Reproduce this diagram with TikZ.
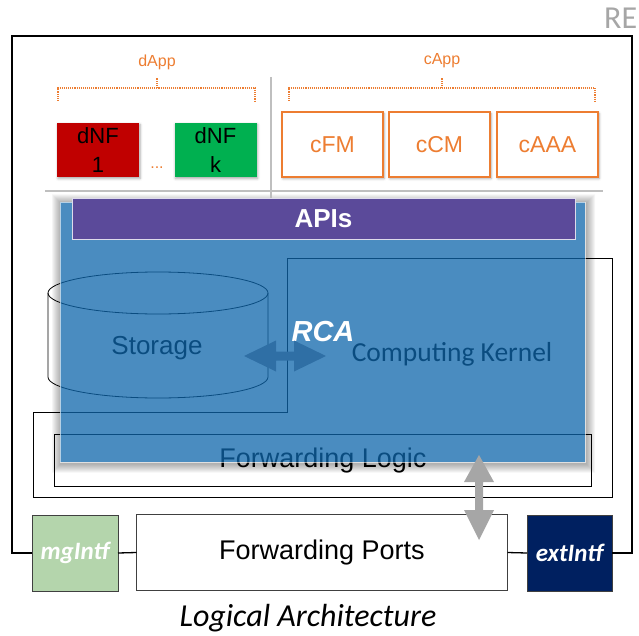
\documentclass[tikz,border=0pt]{standalone}
\usepackage{fontspec}
\setmainfont{Liberation Sans}
\newfontfamily\calib{Carlito}
\usetikzlibrary{shadows.blur}
\definecolor{orng}{RGB}{237,125,49}
\definecolor{redbox}{RGB}{192,0,0}
\definecolor{greenbox}{RGB}{0,176,80}
\definecolor{rcablue}{RGB}{14,102,171}
\definecolor{apipurple}{RGB}{91,74,154}
\definecolor{navy}{RGB}{0,32,96}
\definecolor{mggreen}{RGB}{180,213,172}
\definecolor{sepgray}{RGB}{191,191,191}
\definecolor{arrowgray}{RGB}{166,166,166}
\definecolor{linkblue}{RGB}{47,111,165}
\definecolor{regray}{RGB}{166,166,166}

\begin{document}
\begin{tikzpicture}[x=1pt,y=-1pt,
  softshadow/.style={blur shadow={shadow xshift=1pt,shadow yshift=-1.5pt,shadow blur radius=2.5pt,shadow opacity=35}},
  dnfbox/.style={rectangle,inner sep=0pt,outer sep=0pt,minimum width=82pt,minimum height=54pt,
    align=center,font=\fontsize{22}{29}\selectfont,softshadow},
  cbox/.style={rectangle,draw=orng,line width=1.2pt,fill=white,text=orng,inner sep=0pt,outer sep=0pt,
    minimum width=101pt,minimum height=65pt,font=\fontsize{23}{27}\selectfont,softshadow},
  bracket/.style={orng,densely dotted,line width=1.1pt},
  applabel/.style={text=orng,font=\fontsize{16}{19}\selectfont,inner sep=0pt},
  sep/.style={draw=sepgray,line width=1.3pt},
  thinbox/.style={draw=black,line width=0.8pt},
  port/.style={rectangle,draw=black!75,line width=0.8pt,inner sep=0pt,outer sep=0pt,minimum height=76pt},
  intf/.style={port,text=white,font=\calib\bfseries\itshape\fontsize{25}{29}\selectfont},
  link/.style={draw=black,line width=1.3pt}]

\useasboundingbox (0,0) rectangle (639,636);

% ---------- bottom row of interfaces ----------
\node[intf,fill=mggreen,minimum width=86pt] (mg) at (75,553) {mgIntf};
\node[port,fill=white,minimum width=371pt,font=\fontsize{27}{31}\selectfont] (fp) at (322,552.5) {Forwarding Ports};
\node[intf,fill=navy,minimum width=85pt] (ext) at (569.5,553) {extIntf};

% outer frame of the element
\draw[link] (mg.west) -| (12,36) -- (632,36) |- (ext.east);
\draw[link] (mg.east) -- (fp.west);
\draw[link] (fp.east) -- (ext.west);

% ---------- application layer ----------
\draw[sep] (45,191) -- (603,191);

\node[dnfbox,fill=redbox] (dnf1) at (98,150) {dNF\\1};
\node[dnfbox,fill=greenbox] (dnfk) at (215.5,150) {dNF\\k};
\node[text=orng,font=\fontsize{16}{19}\selectfont,inner sep=0pt] (dots) at (157,168) {...};

\node[cbox] (cfm) at (332.5,144.5) {cFM};
\node[cbox] (ccm) at (439.5,144.5) {cCM};
\node[cbox] (caaa) at (547.5,144.5) {cAAA};

% dotted brackets grouping the applications
\coordinate (dl) at (58,101); \coordinate (dr) at (255,101);
\coordinate (dm) at (157,88); \coordinate (dt) at (157,78);
\draw[bracket] (dl) -- (58,88) -- (255,88) -- (dr);
\draw[bracket] (dm) -- (dt);
\node[applabel] (dapp) at (157,62) {dApp};

\coordinate (cl) at (289,101); \coordinate (cr) at (595,101);
\coordinate (cm) at (442,88); \coordinate (ct) at (442,78);
\draw[bracket] (cl) -- (289,88) -- (595,88) -- (cr);
\draw[bracket] (cm) -- (ct);
\node[applabel] (capp) at (442,61) {cApp};

% ---------- internals below the RCA layer ----------
\draw[thinbox] (287,258) -- (612,258) -- (612,497) -- (33,497) -- (33,412) -- (287,412) -- cycle;
\node[font=\calib\fontsize{27.5}{32}\selectfont,inner sep=0pt] (kernel) at (452,354) {Computing Kernel};

% storage cylinder
\draw[thinbox] (158,293) ellipse [x radius=110, y radius=21];
\draw[thinbox] (48,293) -- (48,377) arc [start angle=180, end angle=0, x radius=110, y radius=21] -- (268,293);
\node[font=\fontsize{26}{30}\selectfont,inner sep=0pt] (storage) at (157,348) {Storage};

% forwarding logic
\draw[thinbox] (54,434) rectangle (591,486);
\node[font=\fontsize{27}{31}\selectfont,inner sep=0pt] (fl) at (323,461) {Forwarding Logic};

% ---------- RCA layer ----------
\foreach \i in {1,...,9}
  \fill[black,opacity=0.04,even odd rule]
    ({60-\i+1},{202-\i+1.5}) rectangle ({585+\i+1},{462+\i+1.5}) (60,202) rectangle (585,462);
\node[rectangle,inner sep=0pt,outer sep=0pt,minimum width=525pt,minimum height=260pt,
      fill=rcablue,fill opacity=0.75,draw=white,draw opacity=0.6,line width=0.8pt,
      text opacity=1] (rca) at (322.5,332) {};
\node[text=white,font=\bfseries\itshape\fontsize{29}{34}\selectfont,inner sep=0pt] (rcalabel) at (323,332) {RCA};

\draw[sep] (271,77) -- (271,202);

\node[rectangle,inner sep=0pt,outer sep=0pt,minimum width=503pt,minimum height=41pt,
      fill=apipurple,draw=white!80!apipurple,line width=0.9pt,text=white,
      font=\bfseries\fontsize{26}{30}\selectfont] (apis) at (323.5,218.5) {APIs};

% storage <-> kernel exchange
\coordinate (sa) at (244,356);
\coordinate (sb) at (326,356);
\fill[linkblue] (sa) -- ++(32,-15.5) -- ++(0,11) -- ++(18,0) -- ++(0,-11) -- (sb)
  -- ++(-32,15.5) -- ++(0,-11) -- ++(-18,0) -- ++(0,11) -- cycle;

% logic <-> ports exchange
\coordinate (ga) at (479,455);
\coordinate (gb) at (479,540);
\fill[arrowgray] (ga) -- ++(15,27) -- ++(-11,0) -- ++(0,28) -- ++(11,0) -- (gb)
  -- ++(-15,-30) -- ++(11,0) -- ++(0,-28) -- ++(-11,0) -- cycle;

% ---------- captions ----------
\node[font=\calib\itshape\fontsize{32}{37}\selectfont,inner sep=0pt] (caption) at (308,618) {Logical Architecture};
\node[anchor=west,text=regray,font=\calib\fontsize{32}{36}\selectfont,inner sep=0pt] (re) at (604,18) {RE};
\end{tikzpicture}
\end{document}
